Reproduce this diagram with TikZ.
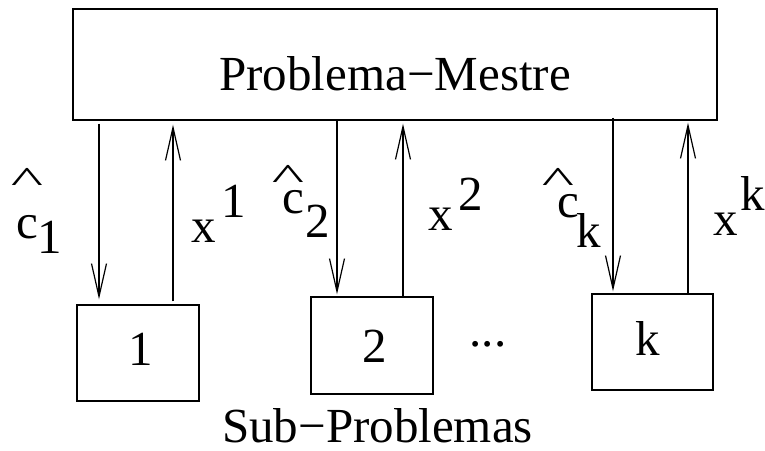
\documentclass[tikz,border=0pt]{standalone}
\usepackage{fontspec}
\setmainfont{Liberation Serif}
\usetikzlibrary{arrows.meta}
\begin{document}
\begin{tikzpicture}[x=1pt,y=-1pt,
  box/.style={draw, line width=1.4pt, inner sep=0pt},
  lbl/.style={font=\fontsize{49}{56}\selectfont, inner sep=0pt, anchor=base},
  arr/.style={line width=1.2pt,
    -{Straight Barb[length=33pt,width=15pt,line width=1.2pt]}},
]
\useasboundingbox (0,0) rectangle (765,450);

% master problem and the sub-problems
\node[box, minimum width=644pt, minimum height=111pt] (master) at (395,64.5) {};
\node[box, minimum width=122pt, minimum height=96pt] (b1) at (138,353) {};
\node[box, minimum width=122pt, minimum height=97pt] (b2) at (372,345.5) {};
\node[box, minimum width=121pt, minimum height=96pt] (bk) at (652.5,342) {};

\node[lbl] (mtext) at (395,90) {Problema−Mestre};
\node[lbl] (n1) at (141,365) {1};
\node[lbl] (n2) at (375,362) {2};
\node[lbl] (nk) at (648,355) {k};
\node[lbl] (dots) at (488,346) {...};
\node[lbl] (sub) at (377.5,442) {Sub−Problemas};

% columns of the connectors
\coordinate (d1) at (99,0);
\coordinate (u1) at (173,0);
\coordinate (d2) at (337,0);
\coordinate (u2) at (403,0);
\coordinate (dk) at (613,0);
\coordinate (uk) at (688,0);

\draw[arr, shorten <=3pt, shorten >=5pt] (d1 |- master.south) -- (d1 |- b1.north);
\draw[arr, shorten <=3pt, shorten >=4pt] (u1 |- b1.north) -- (u1 |- master.south);
\draw[arr, shorten >=2pt] (d2 |- master.south) -- (d2 |- b2.north);
\draw[arr, shorten >=3pt] (u2 |- b2.north) -- (u2 |- master.south);
\draw[arr, shorten <=-3pt, shorten >=2pt] (dk |- master.south) -- (dk |- bk.north);
\draw[arr, shorten >=2pt] (uk |- bk.north) -- (uk |- master.south);

% prices sent down and proposals sent up
\newcommand\hatmark{\scalebox{1.4}[0.75]{\textasciicircum}}
\node[lbl] (hat1) at (27,192) {\hatmark};
\node[lbl] (c1) at (27.5,238) {c};
\node[lbl] (s1) at (50,253) {1};
\node[lbl] (x1) at (204,242) {x};
\node[lbl] (p1) at (234,217) {1};

\node[lbl] (hat2) at (288,189) {\hatmark};
\node[lbl] (c2) at (293,213) {c};
\node[lbl] (s2) at (318,237) {2};
\node[lbl] (x2) at (441,230) {x};
\node[lbl] (p2) at (471,210) {2};

\node[lbl] (hatk) at (558,192) {\hatmark};
\node[lbl] (ck) at (568,217) {c};
\node[lbl] (sk) at (589,247) {k};
\node[lbl] (xk) at (726,235) {x};
\node[lbl] (pk) at (753,210) {k};
\end{tikzpicture}
\end{document}
